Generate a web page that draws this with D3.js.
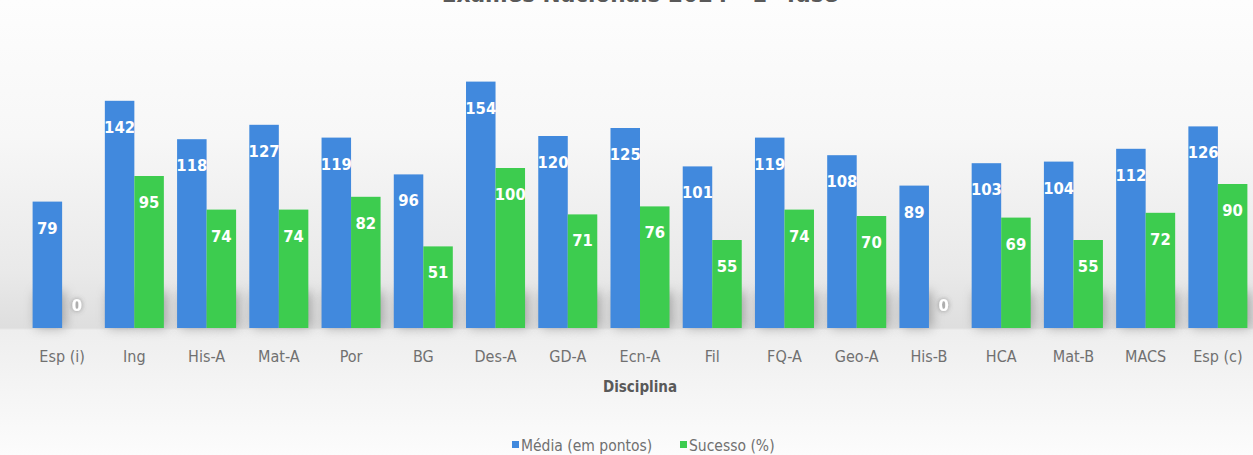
<!DOCTYPE html>
<html>
<head>
<meta charset="utf-8">
<script src="https://cdn.jsdelivr.net/npm/d3@7"></script>
<style>
  html, body { margin: 0; padding: 0; background: #fff; }
  svg { display: block; }
</style>
</head>
<body>
<div id="chart"></div>
<script>
// Dados
var disciplinas = ["Esp (i)", "Ing", "His-A", "Mat-A", "Por", "BG", "Des-A", "GD-A", "Ecn-A", "Fil", "FQ-A", "Geo-A", "His-B", "HCA", "Mat-B", "MACS", "Esp (c)"];
var media = [79, 142, 118, 127, 119, 96, 154, 120, 125, 101, 119, 108, 89, 103, 104, 112, 126];
var sucesso = [0, 95, 74, 74, 82, 51, 100, 71, 76, 55, 74, 70, 0, 69, 55, 72, 90];
var series = ["Média (em pontos)", "Sucesso (%)"];
var cores = ["#4189dd", "#3dcc4f"];

var W = 1253, H = 455;
var baseY = 328;

var svg = d3.select("#chart").append("svg")
  .attr("width", W)
  .attr("height", H)
  .style("font-family", "'DejaVu Sans Condensed', 'DejaVu Sans', sans-serif");

var defs = svg.append("defs");

// fundo com gradiente vertical
var grad = defs.append("linearGradient")
  .attr("id", "fundo")
  .attr("x1", 0).attr("y1", 0).attr("x2", 0).attr("y2", 1);
[[0, "#fdfdfd"], [0.3, "#f7f7f7"], [0.6, "#e9e9e9"], [baseY / H, "#dedede"], [(baseY + 2) / H, "#eeeeee"], [1, "#fcfcfc"]]
  .forEach(function(s) {
    grad.append("stop").attr("offset", s[0]).attr("stop-color", s[1]);
  });

defs.append("filter").attr("id", "blur")
  .attr("x", "-50%").attr("y", "-50%").attr("width", "200%").attr("height", "200%")
  .append("feGaussianBlur").attr("stdDeviation", 6);

var glow = defs.append("filter").attr("id", "glow")
  .attr("x", "-60%").attr("y", "-60%").attr("width", "220%").attr("height", "220%");
glow.append("feGaussianBlur").attr("in", "SourceAlpha").attr("stdDeviation", 2.5).attr("result", "b");
glow.append("feFlood").attr("flood-color", "#555").attr("flood-opacity", 0.7);
glow.append("feComposite").attr("in2", "b").attr("operator", "in").attr("result", "s");
var mg = glow.append("feMerge");
mg.append("feMergeNode").attr("in", "s");
mg.append("feMergeNode").attr("in", "SourceGraphic");

svg.append("rect").attr("width", W).attr("height", H).attr("fill", "url(#fundo)");

// escalas
var x0 = d3.scaleBand()
  .domain(disciplinas)
  .range([26, 1254])
  .paddingInner(0.183)
  .paddingOuter(0.0915);

var x1 = d3.scaleBand()
  .domain(series)
  .range([0, x0.bandwidth()]);

var y = d3.scaleLinear()
  .domain([0, 160])
  .range([baseY, baseY - 256]);

var dados = disciplinas.map(function(d, i) {
  return { disc: d, valores: [
    { serie: series[0], v: media[i] },
    { serie: series[1], v: sucesso[i] }
  ] };
});

// título (cortado no topo, como na imagem original)
svg.append("text")
  .attr("x", 640)
  .attr("y", 2)
  .attr("text-anchor", "middle")
  .attr("font-size", 24)
  .attr("font-weight", "bold")
  .attr("fill", "#595959")
  .text("Exames Nacionais 2024 - 1ª fase");

var grupos = svg.selectAll("g.grupo")
  .data(dados)
  .enter().append("g")
  .attr("class", "grupo")
  .attr("transform", function(d) { return "translate(" + x0(d.disc) + ",0)"; });

// sombra na base das barras
grupos.selectAll("rect.sombra")
  .data(function(d) { return d.valores.filter(function(v) { return v.v > 0; }); })
  .enter().append("rect")
  .attr("class", "sombra")
  .attr("x", function(d) { return x1(d.serie) + 3; })
  .attr("y", function(d) { return Math.max(y(d.v), baseY - 36); })
  .attr("width", x1.bandwidth())
  .attr("height", function(d) { return baseY - Math.max(y(d.v), baseY - 36); })
  .attr("fill", "#6f6f6f")
  .attr("opacity", 0.55)
  .attr("filter", "url(#blur)");

grupos.selectAll("rect.barra")
  .data(function(d) { return d.valores; })
  .enter().append("rect")
  .attr("class", "barra")
  .attr("x", function(d) { return x1(d.serie); })
  .attr("y", function(d) { return y(d.v); })
  .attr("width", x1.bandwidth())
  .attr("height", function(d) { return baseY - y(d.v); })
  .attr("fill", function(d, i) { return cores[i]; });

// rótulos de dados
grupos.selectAll("text.rotulo")
  .data(function(d) { return d.valores; })
  .enter().append("text")
  .attr("class", "rotulo")
  .attr("x", function(d) { return x1(d.serie) + x1.bandwidth() / 2; })
  .attr("y", function(d) { return d.v > 0 ? y(d.v) + 32 : baseY - 17; })
  .attr("text-anchor", "middle")
  .attr("font-size", 16.5)
  .attr("font-weight", "bold")
  .attr("fill", "#fff")
  .attr("filter", function(d) { return d.v > 0 ? null : "url(#glow)"; })
  .text(function(d) { return d.v; });

// eixo x
var eixo = svg.append("g")
  .attr("transform", "translate(0," + baseY + ")")
  .call(d3.axisBottom(x0).tickSize(0).tickPadding(34));
eixo.select(".domain").remove();
eixo.selectAll("text")
  .attr("dy", 0)
  .attr("font-family", "'DejaVu Sans Condensed', sans-serif")
  .attr("font-size", 16)
  .attr("fill", "#707070");

svg.append("text")
  .attr("x", 640)
  .attr("y", 392)
  .attr("text-anchor", "middle")
  .attr("font-size", 15)
  .attr("font-weight", "bold")
  .attr("fill", "#595959")
  .text("Disciplina");

// legenda
var legX = [512, 680];
var leg = svg.selectAll("g.leg")
  .data(series)
  .enter().append("g")
  .attr("class", "leg")
  .attr("transform", function(d, i) { return "translate(" + legX[i] + ",441)"; });
leg.append("rect")
  .attr("width", 7).attr("height", 7)
  .attr("fill", function(d, i) { return cores[i]; });
leg.append("text")
  .attr("x", 9)
  .attr("y", 10)
  .attr("font-size", 15.5)
  .attr("fill", "#707070")
  .text(function(d) { return d; });
</script>
</body>
</html>
